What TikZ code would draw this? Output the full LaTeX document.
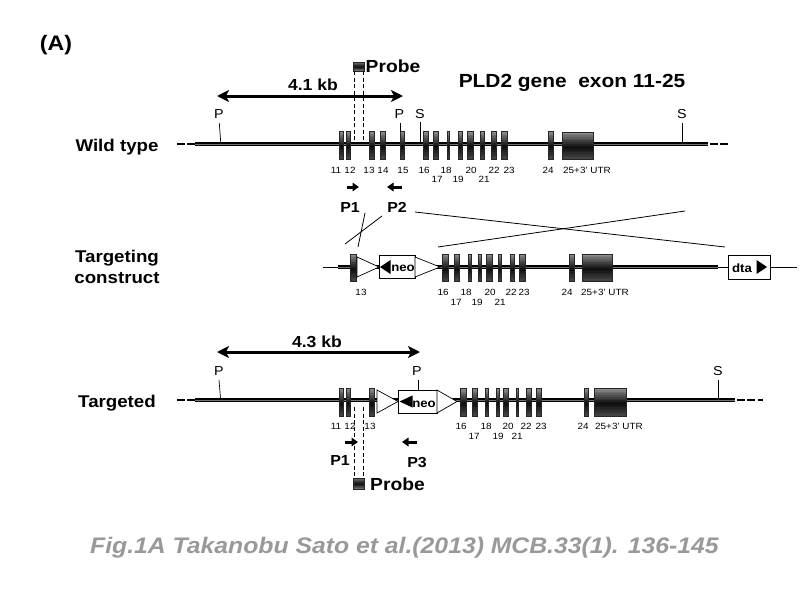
\documentclass[tikz,border=0pt]{standalone}
\usepackage{fontspec}
\setmainfont{Liberation Sans}[FakeStretch=1.1]
\usetikzlibrary{arrows.meta}
% vertical gradient box drawn in strips: x1 x2 ytop ybottom
\newcommand\gradbox[6]{%
  \foreach \i in {0,...,15}{%
    \pgfmathsetmacro\ya{#3+(#4-#3)*\i/16}%
    \pgfmathsetmacro\yb{#3+(#4-#3)*(\i+1)/16+0.25}%
    \pgfmathsetmacro\tt{(\i+0.5)/16}%
    \pgfmathsetmacro\dk{ifthenelse(\tt<0.55,#5+(95-#5)*\tt/0.55,95-(95-#6)*(\tt-0.55)/0.45)}%
    \fill[black!\dk] (#1,\ya) rectangle (#2,\yb);
  }%
  \draw[black!85, line width=0.3pt] (#1,#3) rectangle (#2,#4);
}
\newcommand\exonrect[4]{\gradbox{#1}{#2}{#3}{#4}{42}{72}}
\begin{document}
\begin{tikzpicture}[x=1pt,y=-1pt,
  rowlbl/.style={font=\bfseries\fontsize{17}{17}\selectfont, anchor=base, inner sep=0pt},
  bigtitle/.style={font=\bfseries\fontsize{19}{19}\selectfont, anchor=base, inner sep=0pt},
  kblbl/.style={font=\bfseries\fontsize{16}{16}\selectfont, anchor=base, inner sep=0pt},
  probelbl/.style={font=\bfseries\fontsize{17.5}{17.5}\selectfont, anchor=base west, inner sep=0pt},
  primerlbl/.style={font=\bfseries\fontsize{14.5}{14.5}\selectfont, anchor=base, inner sep=0pt},
  sitelbl/.style={font=\fontsize{13}{13}\selectfont, anchor=base, inner sep=0pt},
  num/.style={font=\fontsize{9}{9}\selectfont, anchor=base, inner sep=0pt},
  cassette/.style={font=\bfseries\fontsize{12}{12}\selectfont, anchor=base, inner sep=0pt},
  genome/.style={line width=4.6pt, draw=black},
  genomemid/.style={line width=0.7pt, draw=black!55},
  flank/.style={line width=2.6pt, dash pattern=on 7.5pt off 2.8pt},
  tick/.style={line width=0.7pt},
  kbarrow/.style={line width=3pt, {Stealth[length=12pt,width=12pt,inset=3pt]}-{Stealth[length=12pt,width=12pt,inset=3pt]}},
  primer/.style={line width=3pt, -{Triangle[length=6.5pt,width=8.5pt]}},
  probeline/.style={line width=0.7pt, dash pattern=on 4pt off 2.5pt},
  lox/.style={draw=black, fill=white, line width=0.7pt},
  boxc/.style={draw=black, fill=white, line width=0.8pt},
  cross/.style={line width=0.8pt}
]
\useasboundingbox (0,0) rectangle (800,600);
\fill[white] (0,0) rectangle (800,600);

% ---------- labels ----------
\node[font=\bfseries\fontsize{21}{21}\selectfont, anchor=base, inner sep=0pt] (A) at (56,50) {(A)};
\node[rowlbl] (wt) at (117,151) {Wild type};
\node[rowlbl] (tc1) at (117,262) {Targeting};
\node[rowlbl] (tc2) at (117,283) {construct};
\node[rowlbl] (tg) at (117,407) {Targeted};
\node[bigtitle] (title) at (572,87) {PLD2 gene\ \ exon 11-25};

% ================= WILD TYPE =================
\draw[flank] (177,144) -- (195,144);
\draw[flank] (710,144) -- (729,144);
\draw[genome] (195,144) -- (708,144);
\draw[genomemid] (195,144) -- (708,144);

% probe (top)
\gradbox{353}{364}{62}{71}{50}{55}
\node[probelbl] (probeT) at (365.5,72) {Probe};
\draw[probeline] (354.5,71) -- (354.5,142);
\draw[probeline] (363.3,71) -- (363.3,142);

% 4.1 kb
\coordinate (k1a) at (217,96);
\coordinate (k1b) at (403,96);
\draw[kbarrow] (k1a) -- (k1b);
\node[kblbl] (kb41) at (313,90) {4.1 kb};

% restriction sites
\node[sitelbl] (wP1) at (219,118) {P};
\node[sitelbl] (wP2) at (399.5,118) {P};
\node[sitelbl] (wS1) at (420,118) {S};
\node[sitelbl] (wS2) at (682,118) {S};
\coordinate (wP1a) at (219.3,123); \coordinate (wP1b) at (220.7,142);
\coordinate (wP2a) at (400.5,123); \coordinate (wP2b) at (400.5,131);
\coordinate (wS1a) at (420,122); \coordinate (wS1b) at (420,142);
\coordinate (wS2a) at (682,123); \coordinate (wS2b) at (682,142);
\draw[tick] (wP1a) -- (wP1b);
\draw[tick] (wP2a) -- (wP2b);
\draw[tick] (wS1a) -- (wS1b);
\draw[tick] (wS2a) -- (wS2b);

% exons
\exonrect{339.3}{342.7}{131}{159}
\exonrect{346}{349.7}{131}{159}
\exonrect{368.7}{373.7}{131}{159}
\exonrect{380}{385.3}{131}{159}
\exonrect{400}{404.3}{131}{159}
\exonrect{423.3}{428.5}{131}{159}
\exonrect{433.3}{438.5}{131}{159}
\exonrect{447}{449.3}{131}{159}
\exonrect{458}{462}{131}{159}
\exonrect{467.5}{472.7}{131}{159}
\exonrect{480.5}{483.7}{131}{159}
\exonrect{491}{496}{131}{159}
\exonrect{501}{507}{131}{159}
\exonrect{548}{553}{131}{159}
\exonrect{562}{593}{132}{159}

% exon numbers
\node[num] at (336,173) {11};
\node[num] at (350,173) {12};
\node[num] at (369,173) {13};
\node[num] at (383,173) {14};
\node[num] at (403,173) {15};
\node[num] at (424,173) {16};
\node[num] at (446,173) {18};
\node[num] at (471,173) {20};
\node[num] at (494,173) {22};
\node[num] at (509,173) {23};
\node[num] at (548,173) {24};
\node[num] at (587,173) {25+3' UTR};
\node[num] at (437,182) {17};
\node[num] at (458,182) {19};
\node[num] at (484,182) {21};

% primers
\coordinate (p1a) at (347,187); \coordinate (p1b) at (359,187);
\coordinate (p2a) at (402,187); \coordinate (p2b) at (387,187);
\draw[primer] (p1a) -- (p1b);
\draw[primer] (p2a) -- (p2b);
\node[primerlbl] (P1t) at (350,212) {P1};
\node[primerlbl] (P2t) at (397,212) {P2};

% ================= crossover lines =================
\coordinate (xa1) at (365,213); \coordinate (xa2) at (358,247);
\coordinate (xb1) at (382,216); \coordinate (xb2) at (345,244);
\coordinate (xc1) at (415,212); \coordinate (xc2) at (725,247);
\coordinate (xd1) at (438,247); \coordinate (xd2) at (685,211);
\draw[cross] (xa1) -- (xa2);
\draw[cross] (xb1) -- (xb2);
\draw[cross] (xc1) -- (xc2);
\draw[cross] (xd1) -- (xd2);

% ================= TARGETING CONSTRUCT =================
\draw[line width=0.8pt] (323,267) -- (797,267);
\draw[genome] (338,267) -- (718,267);
\draw[genomemid] (338,267) -- (718,267);

\exonrect{350}{356}{254}{281}
\draw[lox] (357,257) -- (379,267) -- (357,277) -- cycle;
\node[boxc, minimum width=36pt, minimum height=23pt, inner sep=0pt] (neoC) at (397,266.5) {};
\fill (380,267) -- (390.5,260) -- (390.5,274) -- cycle;
\node[cassette] (neoCt) at (403,271) {neo};
\draw[lox] (415,257) -- (440,267) -- (415,277) -- cycle;

\exonrect{442}{448}{254}{281}
\exonrect{454}{459}{254}{281}
\exonrect{468}{471}{254}{281}
\exonrect{478}{481}{254}{281}
\exonrect{486}{492}{254}{281}
\exonrect{498}{501}{254}{281}
\exonrect{510}{514}{254}{281}
\exonrect{519}{525}{254}{281}
\exonrect{569}{574}{254}{281}
\exonrect{582}{612}{254}{281}

\node[boxc, minimum width=42pt, minimum height=24pt, inner sep=0pt] (dtaC) at (749,267) {};
\node[cassette] (dtat) at (742,272) {dta};
\fill (767,267) -- (756.5,260) -- (756.5,274) -- cycle;

\node[num] at (361,295) {13};
\node[num] at (443,295) {16};
\node[num] at (466,295) {18};
\node[num] at (490,295) {20};
\node[num] at (511,295) {22};
\node[num] at (524,295) {23};
\node[num] at (567,295) {24};
\node[num] at (605,295) {25+3' UTR};
\node[num] at (456,305) {17};
\node[num] at (477,305) {19};
\node[num] at (500,305) {21};

% ================= TARGETED =================
\draw[flank] (177,400) -- (195,400);
\draw[flank] (737,400) -- (763,400);
\draw[genome] (195,400) -- (735,400);
\draw[genomemid] (195,400) -- (735,400);

\coordinate (k2a) at (217,352);
\coordinate (k2b) at (420,352);
\draw[kbarrow] (k2a) -- (k2b);
\node[kblbl] (kb43) at (317,347) {4.3 kb};

\node[sitelbl] (tP1) at (219,375) {P};
\node[sitelbl] (tP2) at (417,375) {P};
\node[sitelbl] (tS1) at (718,375) {S};
\coordinate (tP1a) at (219,380); \coordinate (tP1b) at (220.5,398);
\coordinate (tP2a) at (418,380); \coordinate (tP2b) at (418,390);
\coordinate (tS1a) at (718,380); \coordinate (tS1b) at (718,398);
\draw[tick] (tP1a) -- (tP1b);
\draw[tick] (tP2a) -- (tP2b);
\draw[tick] (tS1a) -- (tS1b);

\exonrect{339}{343}{388}{416}
\exonrect{346}{350}{388}{416}
\exonrect{369}{374}{388}{416}
\draw[lox] (377,390) -- (398,401.5) -- (377,413) -- cycle;
\node[boxc, minimum width=39pt, minimum height=23pt, inner sep=0pt] (neoT) at (417.5,401.5) {};
\fill (399.5,401.5) -- (412.5,395.5) -- (412.5,407.5) -- cycle;
\node[cassette] (neoTt) at (424,407) {neo};
\draw[lox] (437,390) -- (457,401.5) -- (437,413) -- cycle;

\exonrect{460}{466}{388}{416}
\exonrect{472}{477}{388}{416}
\exonrect{485}{488}{388}{416}
\exonrect{496}{499}{388}{416}
\exonrect{503}{508}{388}{416}
\exonrect{516}{518.5}{388}{416}
\exonrect{526}{531}{388}{416}
\exonrect{536}{541}{388}{416}
\exonrect{584}{588}{388}{416}
\exonrect{594}{626}{388}{416}

\node[num] at (336,429) {11};
\node[num] at (350,429) {12};
\node[num] at (370,429) {13};
\node[num] at (461,429) {16};
\node[num] at (486,429) {18};
\node[num] at (508,429) {20};
\node[num] at (526,429) {22};
\node[num] at (541,429) {23};
\node[num] at (583,429) {24};
\node[num] at (619,429) {25+3' UTR};
\node[num] at (474,439) {17};
\node[num] at (498,439) {19};
\node[num] at (517,439) {21};

% probe (bottom)
\draw[probeline] (354.5,407) -- (354.5,478);
\draw[probeline] (363.5,407) -- (363.5,478);
\gradbox{353}{364}{478}{489}{50}{55}
\node[probelbl] (probeB) at (370,490) {Probe};

% primers
\coordinate (q1a) at (345,442); \coordinate (q1b) at (358,442);
\coordinate (q3a) at (417,442); \coordinate (q3b) at (402,442);
\draw[primer] (q1a) -- (q1b);
\draw[primer] (q3a) -- (q3b);
\node[primerlbl] (P1b) at (340,465) {P1};
\node[primerlbl] (P3b) at (417,467) {P3};

% caption
\node[font=\bfseries\itshape\fontsize{22.5}{22.5}\selectfont, text=black!40, anchor=base, inner sep=0pt] (cap) at (404.5,553) {Fig.1A Takanobu Sato et al.(2013) MCB.33(1). 136-145};
\end{tikzpicture}
\end{document}
